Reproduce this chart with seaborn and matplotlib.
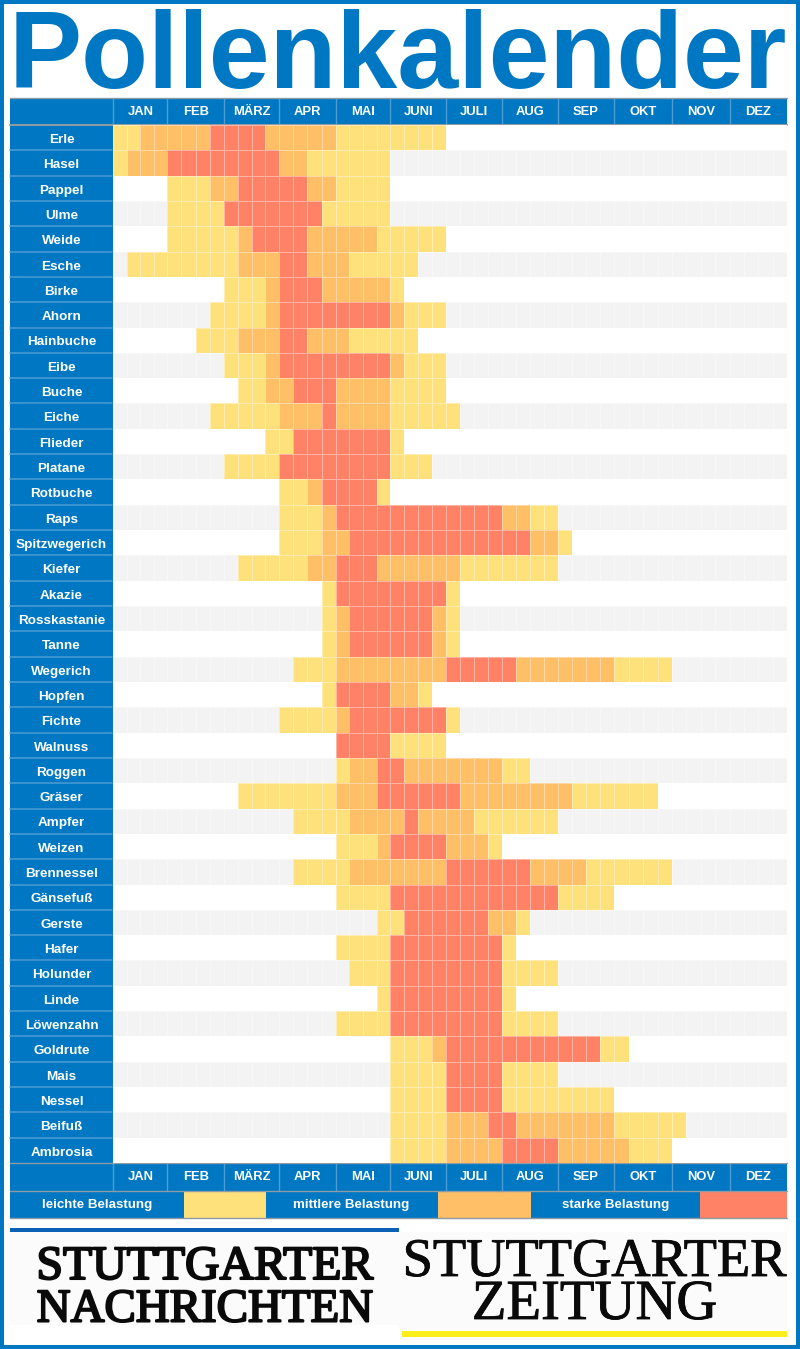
import numpy as np
import matplotlib
matplotlib.use("Agg")
import matplotlib.pyplot as plt
import matplotlib.patheffects as pe
from matplotlib.colors import ListedColormap
from matplotlib.patches import Rectangle
import seaborn as sns

species = ["Erle","Hasel","Pappel","Ulme","Weide","Esche","Birke","Ahorn","Hainbuche","Eibe",
           "Buche","Eiche","Flieder","Platane","Rotbuche","Raps","Spitzwegerich","Kiefer","Akazie","Rosskastanie",
           "Tanne","Wegerich","Hopfen","Fichte","Walnuss","Roggen","Gräser","Ampfer","Weizen","Brennessel",
           "Gänsefuß","Gerste","Hafer","Holunder","Linde","Löwenzahn","Goldrute","Mais","Nessel","Beifuß","Ambrosia"]
months = ["JAN","FEB","MÄRZ","APR","MAI","JUNI","JULI","AUG","SEP","OKT","NOV","DEZ"]
weeks_per_month = 4

# first week with pollen (0-based, 48 quarter-months)
first_week = [0,0,4,4,4,1,8,7,6,8,
              9,7,11,8,12,12,12,9,15,15,
              15,13,15,12,16,16,9,13,16,13,
              16,19,16,17,19,16,20,20,20,20,20]
# level per run: 1 leicht, 2 mittel, 3 stark; run lengths in weeks
run_levels = [[1,2,3,2,1],[1,2,3,2,1],[1,2,3,2,1],[1,3,1],[1,2,3,2,1],[1,2,3,2,1],[1,2,3,2,1],[1,2,3,2,1],[1,2,3,2,1],[1,2,3,2,1],
              [1,2,3,2,1],[1,2,3,2,1],[1,3,1],[1,3,1],[1,2,3,1],[1,2,3,2,1],[1,2,3,2,1],[1,2,3,2,1],[1,3,1],[1,2,3,2,1],
              [1,2,3,2,1],[1,2,3,2,1],[1,3,2,1],[1,2,3,1],[3,1],[1,2,3,2,1],[1,2,3,2,1],[1,2,3,2,1],[1,2,3,2,1],[1,2,3,2,1],
              [1,3,1],[1,3,2,1],[1,3,1],[1,3,1],[1,3,1],[1,3,1],[1,2,3,1],[1,3,1],[1,3,1],[1,2,3,2,1],[1,2,3,2,1]]
run_lengths = [[2,5,4,5,8],[1,3,8,2,6],[3,2,5,2,4],[4,7,5],[5,1,4,5,5],[8,3,2,3,5],[3,1,3,5,1],[4,1,8,1,3],[3,3,2,3,5],[3,1,8,1,3],
               [2,2,3,4,4],[5,3,1,4,5],[2,7,1],[4,8,3],[2,1,4,1],[3,1,12,2,2],[3,2,13,2,1],[5,2,3,6,7],[1,8,1],[1,1,6,1,1],
               [1,1,6,1,1],[3,8,5,7,4],[1,4,2,1],[4,1,7,1],[4,4],[1,2,2,7,2],[7,3,6,8,6],[4,4,1,4,6],[3,1,4,3,1],[4,7,6,4,6],
               [4,12,4],[2,6,2,1],[4,8,1],[3,8,4],[1,8,1],[4,8,4],[3,1,11,2],[4,4,4],[4,4,8],[4,3,2,7,5],[4,4,4,5,3]]

legend_labels = ["leichte Belastung","mittlere Belastung","starke Belastung"]
title = "Pollenkalender"
logo_left = ["STUTTGARTER","NACHRICHTEN"]
logo_right = ["STUTTGARTER","ZEITUNG"]

BLUE = "#0077C2"; SEP = "#4C9BD2"; RULE = "#8E9BA5"
WHITE = "#FFFFFF"; GREY = "#F3F3F3"; Y = "#FFE17C"; O = "#FFBF66"; R = "#FF8266"

W, H = 800, 1349
sns.set_theme(style="white")
plt.rcParams["font.family"] = ["Liberation Sans", "DejaVu Sans"]

fig = plt.figure(figsize=(W/100, H/100), dpi=100, facecolor="white")
overlay = fig.add_axes([0, 0, 1, 1], zorder=0)
overlay.set_xlim(0, W); overlay.set_ylim(H, 0); overlay.axis("off")

# pixel layout
edges = [113.3,167.3,224,279,335.7,390.3,446,502,558,614.3,672,729.6,787.3]
L, TOP, BOT = 10, 125, 1163
HDR0, FOOT1, LEG0, LEG1 = 97.5, 1190.5, 1191.5, 1218

# assemble the level matrix
levels = np.zeros((len(species), len(months)*weeks_per_month), dtype=int)
for i, (s, lv, ln) in enumerate(zip(first_week, run_levels, run_lengths)):
    levels[i, s:s+sum(ln)] = np.repeat(lv, ln)
shown = np.where(levels > 0, levels + 1, 0)
shown[(levels == 0) & (np.arange(len(species))[:, None] % 2 == 1)] = 1
cmap = ListedColormap([WHITE, GREY, Y, O, R])

def rect(x0, y0, x1, y1, c, **k):
    overlay.add_patch(Rectangle((x0, y0), x1-x0, y1-y0, facecolor=c, edgecolor="none", **k))

# title
overlay.text(8.5, 88, title, fontsize=78.8, fontweight="bold", color=BLUE, ha="left", va="baseline")

# blue bands
rect(L, HDR0, edges[-1], TOP, BLUE)
rect(L, TOP, edges[0], BOT, BLUE)
rect(L, BOT, edges[-1], FOOT1, BLUE)
rect(L, LEG0, edges[-1], LEG1, BLUE)
for e in edges[:-1]:
    overlay.plot([e, e], [HDR0, TOP], color=SEP, lw=1)
    overlay.plot([e, e], [BOT, FOOT1], color=SEP, lw=1)
row_h = (BOT-TOP)/len(species)
for i in range(1, len(species)):
    overlay.plot([L, edges[0]-1], [TOP+i*row_h]*2, color=SEP, lw=1.1)
for y, lw in [(HDR0, 1), (TOP, 1.5), (BOT, 1), (FOOT1, 1), (LEG1, 1)]:
    overlay.plot([L, edges[-1]], [y, y], color=RULE, lw=lw)

# month heatmaps, one axes per month so the month widths follow the original
for m, name in enumerate(months):
    ax = fig.add_axes([edges[m]/W, 1-BOT/H, (edges[m+1]-edges[m])/W, (BOT-TOP)/H], zorder=2)
    part = shown[:, m*weeks_per_month:(m+1)*weeks_per_month]
    sns.heatmap(part, ax=ax, cmap=cmap, vmin=-0.5, vmax=4.5, cbar=False, linewidths=0.6,
                linecolor=(1, 1, 1, 0.4), xticklabels=False, yticklabels=False, square=False)
    ax.tick_params(length=0)
    ax.text(2, -0.52, name, color="white", fontsize=9.4, fontweight="bold", ha="center", va="center", clip_on=False)
    ax.text(2, len(species)+0.57, name, color="white", fontsize=9.4, fontweight="bold", ha="center", va="center", clip_on=False)
    if m == 0:
        ax.set_yticks(np.arange(len(species))+0.53)
        ax.set_yticklabels(species, rotation=0, color="white", fontsize=9.7, fontweight="bold", ha="center")
        ax.tick_params(axis="y", pad=(edges[0]-61.5)*0.72)

# legend
leg = [(10, 184, 265.5), (265.5, 437.5, 530.5), (530.5, 700, 787.3)]
for (a, b, c), lab, col in zip(leg, legend_labels, [Y, O, R]):
    rect(b, LEG0, c, LEG1-0.5, col)
    overlay.text((a+b)/2, (LEG0+LEG1)/2, lab, color="white", fontsize=9.6, fontweight="bold", ha="center", va="center")

# newspaper logos
rect(L, 1232, 399, 1325, "#FBFBFB")
rect(399, 1232, 787.3, 1330, "#FBFBFB")
rect(L, 1228, 399, 1232, "#0A60B4")
rect(402, 1331, 787, 1337, "#FCEE1A")
stroke = [pe.withStroke(linewidth=1.5, foreground="#0A0A0A")]
thin = [pe.withStroke(linewidth=0.6, foreground="#0A0A0A")]
for y, t, fs in zip([1279, 1321.5], logo_left, [34.4, 33.8]):
    overlay.text(205, y, t, family="Liberation Serif", fontsize=fs, color="#0A0A0A", ha="center",
                 va="baseline", path_effects=stroke)
for y, t, fs in zip([1276, 1319], logo_right, [39.2, 40.8]):
    overlay.text(594.5, y, t, family="Liberation Serif", fontsize=fs, color="#0A0A0A", ha="center",
                 va="baseline", path_effects=thin)

# outer frame
overlay.add_patch(Rectangle((2, 2), W-4, H-4, fill=False, edgecolor=BLUE, lw=2.9))

fig.savefig("out.png", dpi=100)
